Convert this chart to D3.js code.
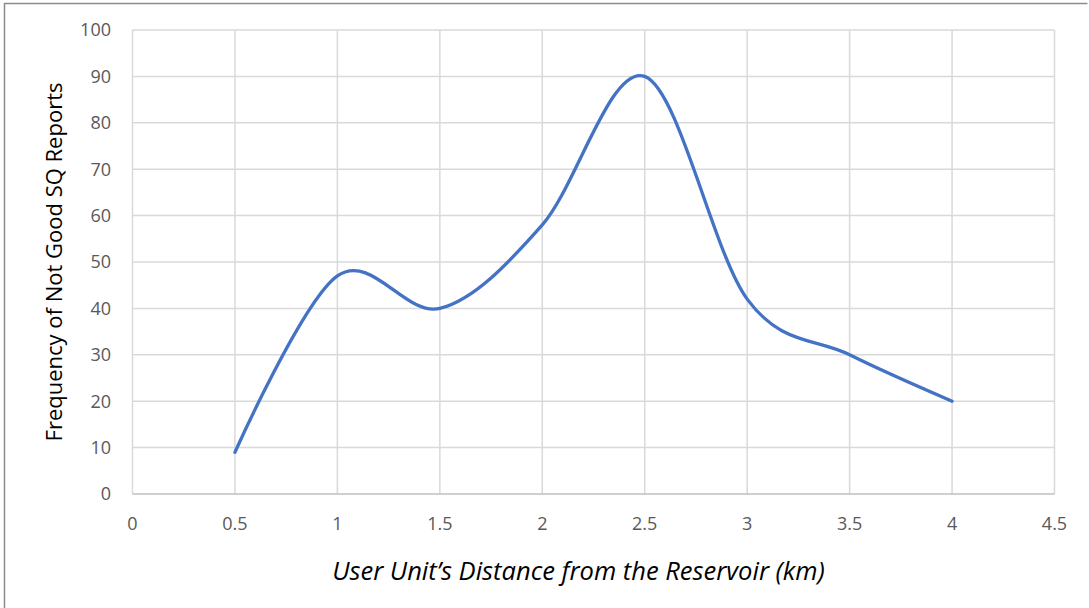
<!DOCTYPE html>
<html><head><meta charset="utf-8">
<script src="https://cdn.jsdelivr.net/npm/d3@7"></script>
<style>body{margin:0;background:#fff}svg{display:block}</style>
</head><body>
<script>
const distances = [0.5, 1, 1.5, 2, 2.5, 3, 3.5, 4];
const reports = [9, 47, 40, 58, 90, 42, 30, 20];
const xTicks = [0, 0.5, 1, 1.5, 2, 2.5, 3, 3.5, 4, 4.5];
const yTicks = [0, 10, 20, 30, 40, 50, 60, 70, 80, 90, 100];
const xTitle = "User Unit\u2019s Distance from the Reservoir (km)";
const yTitle = "Frequency of Not Good SQ Reports";

const W = 1089, H = 608;
const svg = d3.select("body").append("svg").attr("width", W).attr("height", H);

// outer frame
svg.append("line").attr("x1",4.5).attr("x2",4.5).attr("y1",3).attr("y2",H).attr("stroke","#8c8c8c").attr("stroke-width",1.5);
svg.append("line").attr("x1",4).attr("x2",1087.5).attr("y1",3.5).attr("y2",3.5).attr("stroke","#8c8c8c").attr("stroke-width",1.5);

const x = d3.scaleLinear().domain([0, 4.5]).range([132.5, 1054.5]);
const y = d3.scaleLinear().domain([0, 100]).range([494, 30]);

const g = svg.append("g");
// grid
g.selectAll(".vg").data(xTicks.slice(1)).enter().append("line")
  .attr("x1", d => x(d)).attr("x2", d => x(d)).attr("y1", y(100)).attr("y2", y(0))
  .attr("stroke", "#d9d9d9").attr("stroke-width", 1.5);
g.selectAll(".hg").data(yTicks.slice(1)).enter().append("line")
  .attr("x1", x(0)).attr("x2", x(4.5)).attr("y1", d => y(d)).attr("y2", d => y(d))
  .attr("stroke", "#d9d9d9").attr("stroke-width", 1.5);
// axes lines
g.append("line").attr("x1", x(0)).attr("x2", x(0)).attr("y1", y(100)).attr("y2", y(0)).attr("stroke", "#d9d9d9").attr("stroke-width", 1.5);
g.append("line").attr("x1", x(0)).attr("x2", x(4.5)).attr("y1", y(0)).attr("y2", y(0)).attr("stroke", "#bfbfbf").attr("stroke-width", 1.5);

const font = "'Open Sans', 'Noto Sans', sans-serif";
// y tick labels
g.selectAll(".yl").data(yTicks).enter().append("text")
  .attr("x", 111).attr("y", d => y(d)).attr("dy", "0.35em")
  .attr("text-anchor", "end").attr("font-family", font).attr("font-size", 18)
  .attr("fill", "#595959").text(d => d);
// x tick labels
g.selectAll(".xl").data(xTicks).enter().append("text")
  .attr("x", d => x(d)).attr("y", 530)
  .attr("text-anchor", "middle").attr("font-family", font).attr("font-size", 18)
  .attr("fill", "#595959").text(d => d);

// line
const line = d3.line().x((d, i) => x(distances[i])).y(d => y(d)).curve(d3.curveCatmullRom.alpha(0));
g.append("path").datum(reports).attr("d", line)
  .attr("fill", "none").attr("stroke", "#4472c4").attr("stroke-width", 3.3).attr("stroke-linecap", "round");

// titles
const xt = svg.append("text").attr("x", 578.5).attr("y", 580).attr("text-anchor", "middle")
  .attr("font-family", font).attr("font-style", "italic").attr("font-size", 21).attr("fill", "#000").text(xTitle);
const xl = xt.node().getComputedTextLength();
xt.attr("font-size", 21 * 493 / xl);

const yt = svg.append("text").attr("transform", "translate(62,262) rotate(-90)").attr("text-anchor", "middle")
  .attr("font-family", font).attr("font-size", 18).attr("fill", "#000").text(yTitle);
const yl = yt.node().getComputedTextLength();
yt.attr("font-size", 18 * 359 / yl);
</script>
</body></html>
